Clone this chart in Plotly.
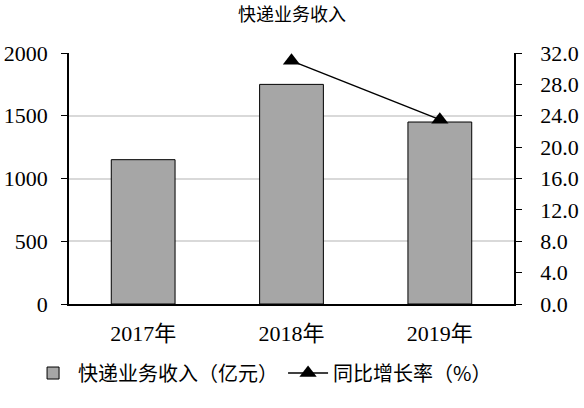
import plotly.graph_objects as go

categories = ["2017年", "2018年", "2019年"]
revenue = [1150, 1750, 1450]
growth = [None, 31.0, 23.5]

title_text = "快递业务收入"
bar_name = "快递业务收入（亿元）"
line_name = "同比增长率（%）"

serif = "Liberation Serif, Times New Roman, Noto Sans CJK SC"
cjk = "Noto Sans CJK SC, sans-serif"

fig = go.Figure()
fig.add_trace(go.Bar(
    x=categories, y=revenue, name=bar_name,
    marker=dict(color="#a6a6a6", line=dict(color="black", width=1)),
    width=0.43,
))
fig.add_trace(go.Scatter(
    x=categories, y=growth, name=line_name, yaxis="y2",
    mode="lines+markers", connectgaps=False,
    line=dict(color="black", width=1.5),
    marker=dict(symbol="triangle-up", size=15, color="black"),
))

fig.update_layout(
    width=584, height=408,
    margin=dict(l=69, r=70, t=53, b=104, autoexpand=False),
    paper_bgcolor="white", plot_bgcolor="white",
    title=dict(text=title_text, x=0.5, xanchor="center", y=0.963, yanchor="middle",
               font=dict(family=cjk, size=18, color="black")),
    showlegend=True,
    legend=dict(orientation="h", x=-0.092, xanchor="left", y=-0.275, yanchor="middle",
                font=dict(family=cjk, size=20, color="black"),
                itemwidth=40, traceorder="normal", tracegroupgap=0),
    xaxis=dict(
        showline=True, linecolor="black", linewidth=1.5, mirror=False,
        ticks="", tickfont=dict(family=serif, size=22, color="black"),
        showgrid=False, automargin=False, ticklabelstandoff=9,
    ),
    yaxis=dict(
        range=[0, 2000], dtick=500, showline=True, linecolor="black", linewidth=1.5,
        ticks="outside", ticklen=6, tickcolor="black",
        showgrid=True, gridcolor="#d9d9d9", gridwidth=1.5,
        tickfont=dict(family=serif, size=22, color="black"),
        zeroline=False, automargin=False, ticklabelstandoff=9,
    ),
    yaxis2=dict(
        range=[0, 32], dtick=4, tickformat=".1f", overlaying="y", side="right",
        showline=True, linecolor="black", linewidth=1.5,
        ticks="outside", ticklen=6, tickcolor="black",
        showgrid=False, zeroline=False, automargin=False, ticklabelstandoff=14,
        tickfont=dict(family=serif, size=22, color="black"),
    ),
)

fig.write_html("out.html", config={"displayModeBar": False},
               post_script="document.body.style.margin='0px';")
